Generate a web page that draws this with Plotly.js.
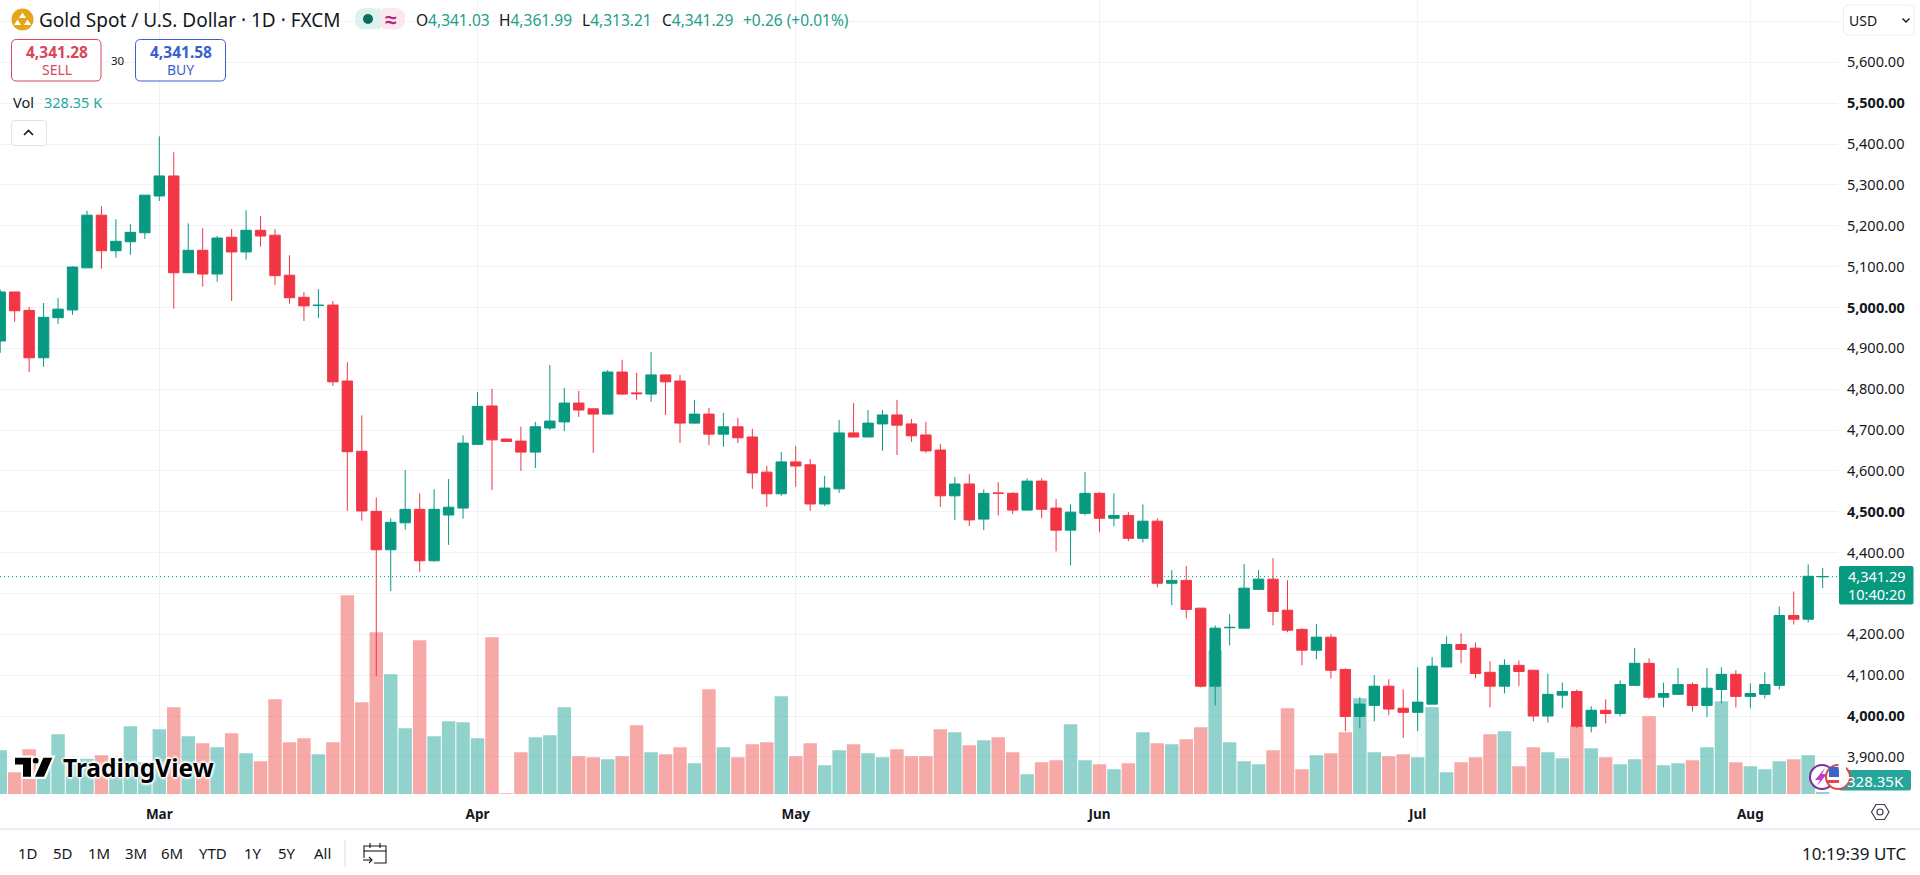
<!DOCTYPE html>
<html>
<head>
<meta charset="utf-8">
<title>Gold Spot / U.S. Dollar</title>
<script src="https://cdn.plot.ly/plotly-3.0.1.min.js"></script>
<style>
	html, body { margin: 0; padding: 0; background: #fff; overflow: hidden; }
</style>
</head>
<body>
<div id="graph"></div>
<script>
// daily candles, left to right
const opens = [4918,5038,4993,4877,4975,4994,5097,5226,5139,5161,
	5183,5273,5322,5085,5140,5082,5172,5136,5189,5177,
	5079,5025,5005,5006,4820,4648,4501,4407,4473,4506,
	4380,4492,4509,4665,4759,4678,4673,4646,4705,4720,
	4766,4752,4739,4842,4791,4788,4835,4820,4717,4739,
	4690,4708,4683,4597,4544,4622,4615,4519,4556,4693,
	4683,4715,4737,4715,4688,4651,4539,4568,4482,4546,
	4545,4504,4575,4509,4455,4496,4545,4484,4491,4435,
	4477,4325,4332,4264,4073,4216,4215,4310,4335,4259,
	4212,4161,4193,4114,3999,4026,4073,4019,4009,4029,
	4120,4175,4166,4107,4073,4124,4112,4000,4051,4060,
	3975,4014,4006,4075,4129,4046,4053,4077,4026,4065,
	4102,4048,4053,4075,4246,4237,4341.03];
const highs = [5044,5038,5001,5011,5023,5101,5237,5248,5216,5204,
	5275,5419,5380,5206,5194,5175,5192,5238,5224,5192,
	5128,5038,5045,5016,4866,4736,4535,4484,4602,4545,
	4555,4580,4687,4793,4801,4678,4708,4720,4859,4803,
	4796,4752,4847,4872,4840,4891,4835,4835,4774,4754,
	4742,4730,4703,4612,4646,4661,4629,4588,4725,4766,
	4749,4749,4774,4727,4720,4666,4585,4592,4555,4572,
	4548,4582,4582,4531,4518,4597,4548,4545,4499,4518,
	4484,4357,4367,4264,4222,4249,4372,4357,4386,4332,
	4215,4225,4200,4117,4046,4100,4090,4065,4119,4144,
	4195,4202,4180,4134,4139,4136,4112,4104,4082,4065,
	4024,4041,4087,4166,4141,4082,4117,4082,4117,4119,
	4112,4080,4107,4268,4305,4371,4361.99];
const lows = [4889,4965,4842,4855,4960,4982,5097,5095,5122,5129,
	5168,5261,4997,5085,5051,5063,5016,5117,5149,5055,
	5009,4967,4974,4808,4502,4478,4097,4306,4456,4353,
	4378,4419,4483,4663,4553,4672,4600,4607,4700,4698,
	4732,4644,4739,4786,4774,4769,4737,4668,4715,4663,
	4659,4668,4556,4512,4539,4561,4502,4514,4546,4683,
	4683,4649,4639,4671,4644,4512,4480,4465,4455,4491,
	4494,4504,4484,4403,4369,4491,4450,4464,4428,4425,
	4315,4271,4239,4070,4026,4173,4215,4308,4222,4205,
	4124,4139,4092,3963,3970,3987,4002,3946,3963,4029,
	4120,4129,4092,4021,4055,4073,3987,3984,4019,3970,
	3960,3982,3999,4075,4041,4021,4053,4011,3997,4031,
	4021,4019,4043,4065,4224,4229,4313.21];
const closes = [5038,4992,4877,4976,4996,5099,5226,5139,5162,5184,
	5275,5322,5085,5140,5082,5170,5136,5189,5175,5078,
	5024,5004,5005.5,4818,4647,4502,4407,4474,4506,4380,
	4506,4511,4668,4758,4676,4672,4646,4708,4722,4766,
	4749,4739,4842,4788,4789,4835,4818,4717,4739,4690,
	4708,4681,4595,4544,4622,4612,4519,4558,4693,4683,
	4717,4737,4712,4686,4649,4539,4568,4480,4545,4545,
	4504,4575,4506,4455,4499,4545,4484,4491,4435,4477,
	4325,4332,4261,4073,4215,4217,4313,4335,4256,4210,
	4161,4193,4112,3999,4029,4073,4017,4009,4034,4122,
	4175,4163,4104,4073,4124,4109,4000,4053,4060,3975,
	4014,4006,4077,4129,4046,4055,4077,4026,4068,4102,
	4048,4055,4077,4246,4237,4342,4341.29];
// volume in thousands, the last bar is the 328.35K shown in the tag
const volumes = [453,387,456,422,501,417,428,438,417,525,
	417,516,582,495,474,462,504,444,420,606,
	477,489,441,477,918,597,807,681,519,783,
	495,540,537,489,792,324,447,492,498,582,
	435,432,426,435,528,447,441,462,414,636,
	462,432,471,477,615,435,474,408,453,471,
	444,432,456,435,435,516,507,468,483,492,
	447,381,417,423,531,423,411,396,414,507,
	474,471,486,522,753,477,420,411,453,579,
	396,438,444,507,609,447,435,441,432,582,
	387,417,432,501,510,405,462,447,429,528,
	459,432,411,426,555,408,414,423,462,600,
	417,405,396,420,426,438,328.35];

const monthTicks = [11, 33, 55, 76, 98, 121];
const monthLabels = ["Mar", "Apr", "May", "Jun", "Jul", "Aug"];
const priceTicks = [3900,4000,4100,4200,4300,4400,4500,4600,4700,4800,4900,5000,5100,5200,5300,5400,5500,5600,5700];
const priceLabels = ["3,900.00","<b>4,000.00</b>","4,100.00","4,200.00","","4,400.00","<b>4,500.00</b>","4,600.00","4,700.00","4,800.00","4,900.00","<b>5,000.00</b>","5,100.00","5,200.00","5,300.00","5,400.00","<b>5,500.00</b>","5,600.00",""];
const lastPrice = 4341.29;
const rangeButtons = ["1D", "5D", "1M", "3M", "6M", "YTD", "1Y", "5Y", "All"];
const rangeButtonX = [27.5, 62.5, 98.5, 135.5, 172, 213, 253, 287, 322];

const FONT = "'Noto Sans', sans-serif";
const INK = "#131722";
const UP = "#089981";
const DOWN = "#F23645";
const GRID = "#F0F2F5";
const TEAL = "#1E9E8A";

// plot area in page pixels
const plotW = 1838, plotH = 794;
function px(x) { return x / plotW; }
function py(y) { return 1 - y / plotH; }

var dayIndex = closes.map(function (c, i) { return i; });
var volumeColors = closes.map(function (c, i) {
	return c >= opens[i] ? "rgba(38,166,154,0.5)" : "rgba(239,83,80,0.5)";
});

var volumeTrace = {
	type: "bar",
	x: dayIndex,
	y: volumes,
	marker: {color: volumeColors, line: {width: 0}},
	xaxis: "x",
	yaxis: "y",
	hoverinfo: "skip"
};

var candleTrace = {
	type: "candlestick",
	x: dayIndex,
	open: opens,
	high: highs,
	low: lows,
	close: closes,
	whiskerwidth: 0,
	increasing: {line: {color: UP, width: 1}, fillcolor: UP},
	decreasing: {line: {color: DOWN, width: 1}, fillcolor: DOWN},
	xaxis: "x",
	yaxis: "y2",
	hoverinfo: "skip"
};

function label(x, y, text, size, color, anchor) {
	return {
		xref: "paper", yref: "paper",
		x: px(x), y: py(y),
		text: text,
		showarrow: false,
		xanchor: anchor || "left",
		yanchor: "middle",
		borderpad: 0,
		font: {family: FONT, size: size, color: color || INK}
	};
}

function rect(x0, y0, x1, y1, fill, line, width) {
	return {
		type: "rect", xref: "paper", yref: "paper", layer: "above",
		x0: px(x0), x1: px(x1), y0: py(y0), y1: py(y1),
		fillcolor: fill || "rgba(0,0,0,0)",
		line: {color: line || "rgba(0,0,0,0)", width: width === undefined ? 1 : width}
	};
}

function circle(cx, cy, r, fill, line, width) {
	var s = rect(cx - r, cy - r, cx + r, cy + r, fill, line, width);
	s.type = "circle";
	return s;
}

// path given in page pixels as [cmd, x, y, ...]
function path(parts, fill, line, width) {
	var d = parts.map(function (p) {
		var out = p[0];
		for (var i = 1; i < p.length; i += 2) {
			out += " " + px(p[i]) + " " + py(p[i + 1]);
		}
		return out;
	}).join(" ");
	return {
		type: "path", xref: "paper", yref: "paper", layer: "above",
		path: d + (fill ? " Z" : ""),
		fillcolor: fill || "rgba(0,0,0,0)",
		line: {color: line || "rgba(0,0,0,0)", width: width === undefined ? 1 : width}
	};
}

function roundBox(x0, y0, x1, y1, r, fill, line) {
	return path([
		["M", x0 + r, y0], ["L", x1 - r, y0], ["Q", x1, y0, x1, y0 + r],
		["L", x1, y1 - r], ["Q", x1, y1, x1 - r, y1],
		["L", x0 + r, y1], ["Q", x0, y1, x0, y1 - r],
		["L", x0, y0 + r], ["Q", x0, y0, x0 + r, y0]
	], fill || "#ffffff", line, 1);
}

var shapes = [
	// last price line
	{type: "line", xref: "paper", yref: "y2", layer: "above", x0: 0, x1: 1, y0: lastPrice, y1: lastPrice,
		line: {color: UP, width: 1, dash: "1px,3px"}},
	// separator above the toolbar
	rect(0, 829, 1920, 829, null, "#E6E8EC", 1),
	rect(345, 840, 345, 867, null, "#E6E8EC", 1),
	// symbol logo and status pills
	circle(22.5, 19.5, 11, "#E3A51A"),
	path([["M", 22.5, 12.5], ["L", 26, 18], ["L", 19, 18]], "#ffffff"),
	path([["M", 17.5, 19.5], ["L", 21, 25], ["L", 14, 25]], "#ffffff"),
	path([["M", 27.5, 19.5], ["L", 31, 25], ["L", 24, 25]], "#ffffff"),
	roundBox(355, 8, 382, 29.5, 10, "#DCF2EE"),
	roundBox(378, 8, 405, 29.5, 10, "#FCE6EF"),
	rect(378, 8, 380, 29.5, "#DCF2EE"),
	circle(368, 19, 5, "#0B6B5C"),
	// sell, buy and the collapse button
	roundBox(11.5, 39.5, 101, 81, 5, "#ffffff", "#D9475A"),
	roundBox(135.5, 39.5, 225.5, 81, 5, "#ffffff", "#3A5FCD"),
	roundBox(11.5, 120.5, 46.5, 145.5, 3, "#ffffff", "#E0E3EB"),
	path([["M", 24, 135], ["L", 28.5, 130.5], ["L", 33, 135]], null, INK, 1.6),
	// currency box
	roundBox(1843.5, 5, 1914, 35, 5, "#ffffff", "#ECEEF2"),
	path([["M", 1902.5, 18.5], ["L", 1906, 22], ["L", 1909.5, 18.5]], null, INK, 1.4),
	// price and volume tags
	roundBox(1839, 566, 1913.5, 604.5, 2, UP),
	roundBox(1839, 770, 1911, 790.5, 2, "#26A69A"),
	// settings hexagon
	path([["M", 1871.5, 812], ["L", 1876, 804.5], ["L", 1884.5, 804.5], ["L", 1889, 812], ["L", 1884.5, 819.5], ["L", 1876, 819.5], ["L", 1871.5, 812], ["L", 1876, 804.5]], null, "#3A3E4A", 1.2),
	circle(1880, 812, 3, "rgba(0,0,0,0)", "#3A3E4A", 1.2),
	// calendar icon
	path([["M", 364, 858], ["L", 364, 846], ["L", 386, 846], ["L", 386, 863], ["L", 374, 863]], null, INK, 1.1),
	path([["M", 364, 851], ["L", 386, 851]], null, INK, 1.1),
	path([["M", 370, 843], ["L", 370, 848]], null, INK, 1.1),
	path([["M", 380, 843], ["L", 380, 848]], null, INK, 1.1),
	path([["M", 363, 860], ["L", 372, 860]], null, INK, 1.1),
	path([["M", 369, 857], ["L", 372, 860], ["L", 369, 863]], null, INK, 1.1),
	// event markers on the last candles
	circle(1822, 777, 12, "#ffffff", "#7B2D9B", 2),
	path([["M", 1825, 768], ["L", 1815, 780], ["L", 1820, 780], ["L", 1817, 786], ["L", 1827, 774], ["L", 1822, 774]], "#C03BD0"),
	circle(1838, 777, 12, "#ffffff", "#E04848", 2),
	rect(1829, 767, 1839, 777, "#3A66C8"),
	rect(1827, 780, 1839, 783, "#E04848"),
	rect(1838.5, 762, 1846, 769.5, "#ffffff"),
	// watermark mark
	path([["M", 14, 756.5], ["L", 32.5, 756.5], ["L", 32.5, 778], ["L", 22, 778], ["L", 22, 765], ["L", 14, 765]], "#ffffff", "#ffffff", 2),
	path([["M", 42, 756.5], ["L", 54, 756.5], ["L", 45, 778], ["L", 33, 778]], "#ffffff", "#ffffff", 2),
	circle(36, 760, 4, "#ffffff"),
	path([["M", 15, 757.7], ["L", 31, 757.7], ["L", 31, 776.7], ["L", 23, 776.7], ["L", 23, 764.5], ["L", 15, 764.5]], "#000000"),
	path([["M", 43.3, 757.7], ["L", 52.3, 757.7], ["L", 44, 776.7], ["L", 35, 776.7]], "#000000"),
	circle(35.7, 760.7, 2.9, "#000000")
];

var annotations = [
	label(38, 19.5, "Gold Spot / U.S. Dollar · 1D · FXCM", 19),
	label(391, 18.5, "<b>≈</b>", 21, "#B5267E", "center"),
	label(415, 19.5, "O<span style='color:" + TEAL + "'>4,341.03</span>", 15.5),
	label(498, 19.5, "H<span style='color:" + TEAL + "'>4,361.99</span>", 15.5),
	label(580.5, 19.5, "L<span style='color:" + TEAL + "'>4,313.21</span>", 15.5),
	label(660.5, 19.5, "C<span style='color:" + TEAL + "'>4,341.29</span>", 15.5),
	label(742, 19.5, "<span style='color:" + TEAL + "'>+0.26 (+0.01%)</span>", 15.5),
	label(56.5, 52, "<b>4,341.28</b>", 15.5, "#D9475A", "center"),
	label(56.5, 69.5, "SELL", 14, "#D9475A", "center"),
	label(118.5, 60, "30", 11.5, INK, "center"),
	label(180.5, 52, "<b>4,341.58</b>", 15.5, "#3A5FCD", "center"),
	label(180.5, 69.5, "BUY", 14, "#3A5FCD", "center"),
	label(11.5, 102, "Vol", 14.5),
	label(43, 102, "328.35 K", 14.5, "#26A69A"),
	label(1848, 20, "USD", 14),
	label(1877, 576, "4,341.29", 14.5, "#ffffff", "center"),
	label(1877, 594, "10:40:20", 14.5, "#ffffff", "center"),
	label(1875.5, 780.5, "328.35K", 15, "#ffffff", "center"),
	label(1907, 853, "10:19:39 UTC", 17, INK, "right")
];
rangeButtons.forEach(function (t, i) {
	annotations.push(label(rangeButtonX[i], 853, t, 15, INK, "center"));
});
var watermark = label(61.5, 767, "<b>TradingView</b>", 24.5, "#000000");
watermark.font.shadow = "2px 0 2px #fff, -2px 0 2px #fff, 0 2px 2px #fff, 0 -2px 2px #fff";
annotations.push(watermark);

var layout = {
	width: 1920,
	height: 875,
	margin: {l: 0, r: 1920 - plotW, t: 0, b: 875 - plotH, pad: 0},
	paper_bgcolor: "#ffffff",
	plot_bgcolor: "#ffffff",
	showlegend: false,
	hovermode: false,
	bargap: 0.07,
	boxgap: 0.28,
	boxgroupgap: 0,
	xaxis: {
		type: "linear",
		range: [-0.014, 127.06],
		rangeslider: {visible: false},
		tickmode: "array",
		tickvals: monthTicks,
		ticktext: monthLabels.map(function (m) { return "<b>" + m + "</b>"; }),
		tickfont: {family: FONT, size: 13.5, color: INK},
		ticks: "outside",
		ticklen: 8,
		tickcolor: "rgba(0,0,0,0)",
		showgrid: true,
		gridcolor: GRID,
		gridwidth: 1,
		zeroline: false,
		showline: false
	},
	yaxis: {
		range: [322, 2704],
		showgrid: false,
		showticklabels: false,
		ticks: "",
		zeroline: false,
		showline: false
	},
	yaxis2: {
		overlaying: "y",
		side: "right",
		range: [3809.06, 5752.75],
		tickmode: "array",
		tickvals: priceTicks,
		ticktext: priceLabels,
		tickfont: {family: FONT, size: 14.5, color: INK},
		ticks: "outside",
		ticklen: 5,
		tickcolor: "rgba(0,0,0,0)",
		showgrid: true,
		gridcolor: GRID,
		gridwidth: 1,
		zeroline: false,
		showline: false
	},
	shapes: shapes,
	annotations: annotations
};

var config = {displayModeBar: false, staticPlot: true};
Plotly.newPlot("graph", [volumeTrace, candleTrace], layout, config);
</script>
</body>
</html>
